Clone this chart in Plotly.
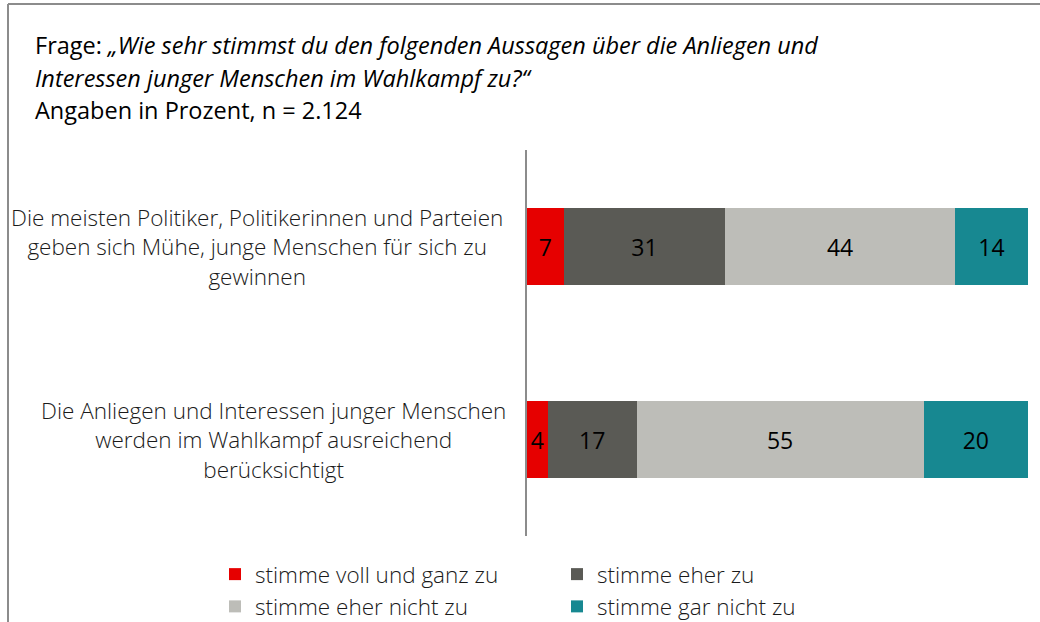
import plotly.graph_objects as go

# ---- data ----
categories = [
    "Die meisten Politiker, Politikerinnen und Parteien<br>geben sich Mühe, junge Menschen für sich zu<br>gewinnen",
    "Die Anliegen und Interessen junger Menschen<br>werden im Wahlkampf ausreichend<br>berücksichtigt",
]
series_names = [
    "stimme voll und ganz zu",
    "stimme eher zu",
    "stimme eher nicht zu",
    "stimme gar nicht zu",
]
voll_und_ganz = [7, 4]
eher_zu = [31, 17]
eher_nicht = [44, 55]
gar_nicht = [14, 20]

series_values = [voll_und_ganz, eher_zu, eher_nicht, gar_nicht]
colors = ["#E60000", "#5A5A55", "#BDBDB8", "#178891"]
legend_of = ["legend", "legend2", "legend", "legend2"]

W, H = 1040, 622
ML, MR, MT, MB = 527, 12, 150, 86

fig = go.Figure()
for name, vals, col, lg in zip(series_names, series_values, colors, legend_of):
    fig.add_trace(go.Bar(
        y=categories, x=vals, name=name, orientation="h",
        marker=dict(color=col, line=dict(width=0)),
        text=[str(v) for v in vals], textposition="inside",
        insidetextanchor="middle", textangle=0,
        insidetextfont=dict(color="black", size=23, family="Open Sans"),
        width=0.4, legend=lg, hoverinfo="skip",
    ))

xmax = max(sum(v) for v in zip(*series_values))

pw, ph = W - ML - MR, H - MT - MB
def px_to_paper_x(px):
    return (px - ML) / pw
def px_to_paper_y(py):
    return (H - MB - py) / ph

# decorative frame (partial border of the original graphic)
fig.add_shape(type="line", xref="paper", yref="paper",
              x0=px_to_paper_x(8), x1=px_to_paper_x(8),
              y0=px_to_paper_y(4), y1=px_to_paper_y(640),
              line=dict(color="#8C8C8C", width=2))
fig.add_shape(type="line", xref="paper", yref="paper",
              x0=px_to_paper_x(8), x1=px_to_paper_x(1060),
              y0=px_to_paper_y(4), y1=px_to_paper_y(4),
              line=dict(color="#8C8C8C", width=2))

# category labels, centred, placed on the category axis
label_centres = [257, 273]
for cat, cx in zip(categories, label_centres):
    fig.add_annotation(text=cat, xref="paper", yref="y",
                       x=px_to_paper_x(cx), y=cat,
                       xanchor="center", yanchor="middle", align="center",
                       showarrow=False,
                       font=dict(family="Open Sans", size=22.5, color="#1a1a1a", weight=300))

title_lines = [
    "Frage: <i>„Wie sehr stimmst du den folgenden Aussagen über die Anliegen und</i>",
    "<i>Interessen junger Menschen im Wahlkampf zu?“</i>",
    "Angaben in Prozent, n = 2.124",
]
title_y = [45, 78, 110]
for t, yy in zip(title_lines, title_y):
    fig.add_annotation(text=t, xref="paper", yref="paper",
                       x=px_to_paper_x(33), y=px_to_paper_y(yy),
                       xanchor="left", yanchor="middle", showarrow=False,
                       font=dict(family="Open Sans", size=23.5, color="#000000"))

legend_common = dict(orientation="v", xref="container", yref="container",
                     xanchor="left", yanchor="top", bgcolor="rgba(0,0,0,0)",
                     font=dict(family="Open Sans", size=22.5, color="#1a1a1a", weight=300),
                     tracegroupgap=0, itemclick=False, traceorder="normal")
fig.update_layout(
    barmode="stack",
    width=W, height=H,
    margin=dict(l=ML, r=MR, t=MT, b=MB, pad=0, autoexpand=False),
    paper_bgcolor="white", plot_bgcolor="white",
    font=dict(family="Open Sans", color="#1a1a1a"),
    xaxis=dict(range=[0, xmax], visible=False, fixedrange=True),
    yaxis=dict(range=[1.5, -0.5], showline=True, linecolor="#8C8C8C", linewidth=2,
               ticks="", showgrid=False, zeroline=False, showticklabels=False,
               automargin=False, fixedrange=True),
    legend=dict(x=215 / W, y=1 - 553 / H, **legend_common),
    legend2=dict(x=557 / W, y=1 - 553 / H, **legend_common),
    showlegend=True,
    bargap=0.6,
)
fig.write_html("out.html", config={"displayModeBar": False},
               post_script="document.body.style.margin='0';")
